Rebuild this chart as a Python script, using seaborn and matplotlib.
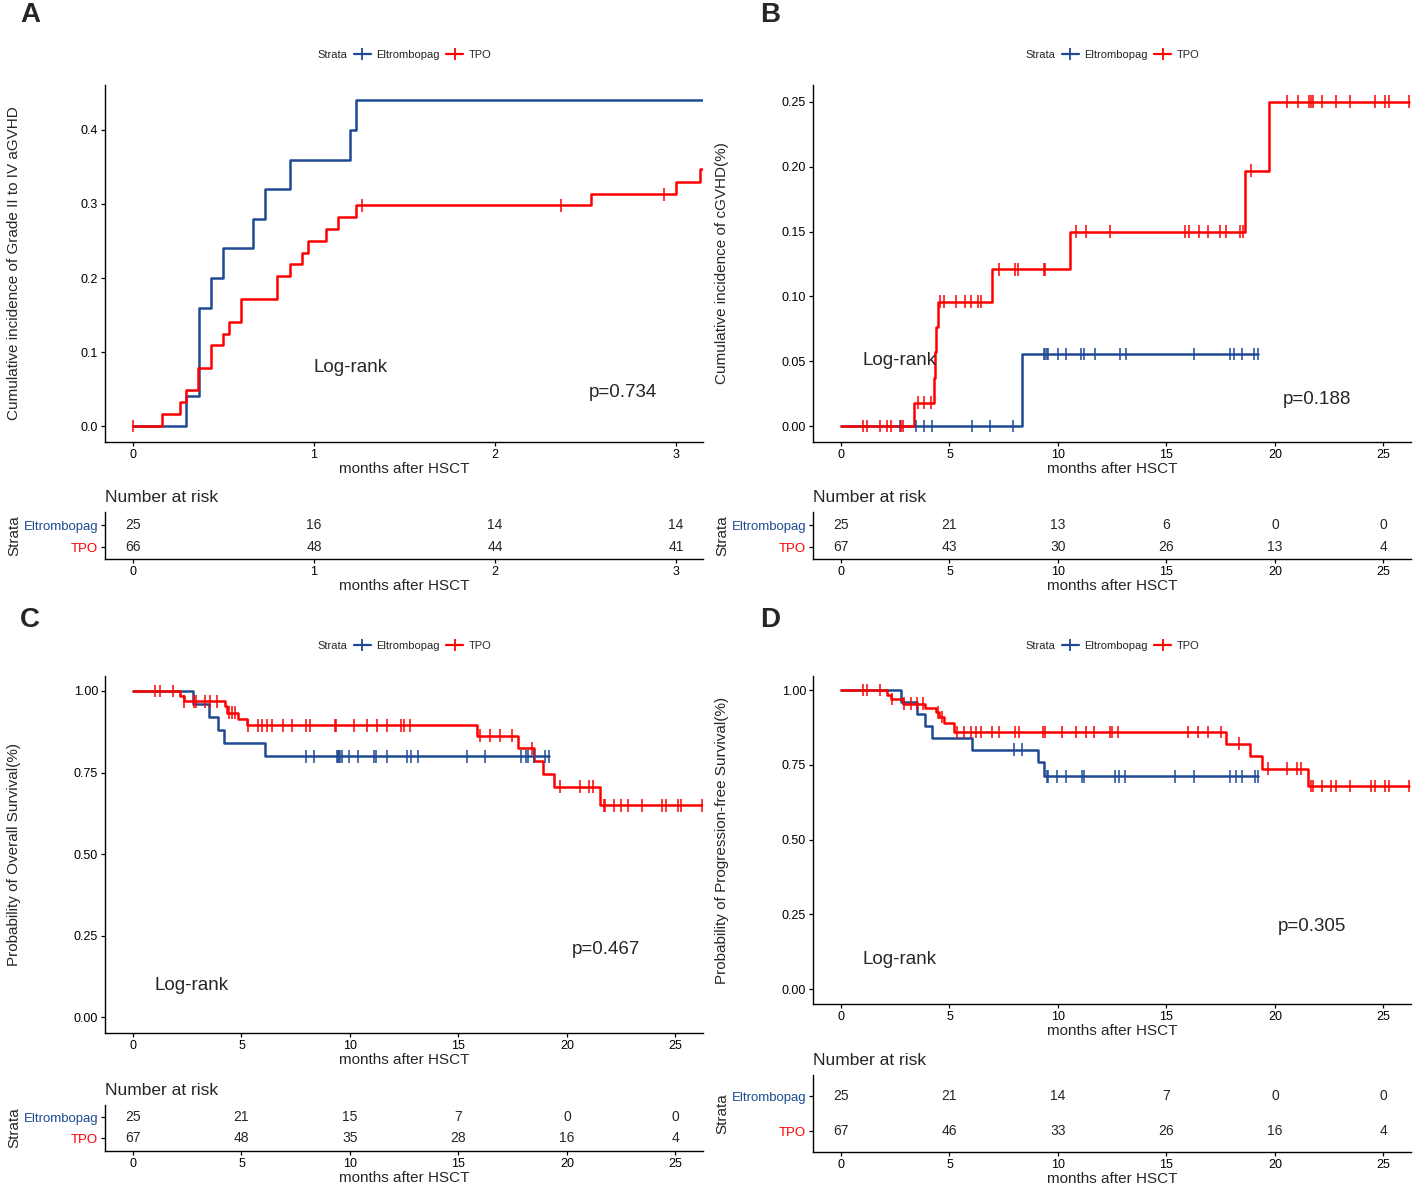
import numpy as np
import pandas as pd
import seaborn as sns
import matplotlib.pyplot as plt
from matplotlib.lines import Line2D

sns.set_style('ticks')
plt.rcParams['font.family'] = ['Liberation Sans', 'DejaVu Sans']

BLUE = '#1F4A93'
RED = '#FF0000'
groups = ['Eltrombopag', 'TPO']
pal = {'Eltrombopag': BLUE, 'TPO': RED}

# ---- Panel A: aGVHD (months 0-3) ----
A_elt_t = [0, 0.295, 0.366, 0.432, 0.499, 0.665, 0.731, 0.865, 1.196, 1.230, 3.15]
A_elt_v = [0, 0.04, 0.16, 0.20, 0.24, 0.28, 0.32, 0.36, 0.40, 0.44, 0.44]
A_elt_c = []
A_tpo_t = [0, 0.162, 0.262, 0.295, 0.361, 0.432, 0.499, 0.531, 0.596, 0.798, 0.865,
           0.931, 0.964, 1.065, 1.131, 1.230, 2.531, 2.999, 3.135, 3.15]
A_tpo_v = [0, 0.016, 0.032, 0.048, 0.079, 0.109, 0.125, 0.141, 0.172, 0.203, 0.219,
           0.234, 0.250, 0.266, 0.282, 0.298, 0.313, 0.330, 0.347, 0.347]
A_tpo_c = [0, 1.265, 2.365, 2.933]
A_risk_t = [0, 1, 2, 3]
A_risk_elt = [25, 16, 14, 14]
A_risk_tpo = [66, 48, 44, 41]

# ---- Panel B: cGVHD ----
B_elt_t = [0, 8.34, 19.23]
B_elt_v = [0, 0.0556, 0.0556]
B_elt_c = [2.71, 3.47, 3.84, 4.20, 6.05, 6.89, 7.92, 9.35, 9.42, 9.48, 9.54, 10.0, 10.38,
           11.08, 11.18, 11.69, 12.85, 13.12, 16.28, 17.92, 18.12, 18.46, 19.03, 19.23]
B_tpo_t = [0, 3.35, 4.27, 4.33, 4.38, 4.45, 6.98, 10.57, 18.62, 19.74, 26.2]
B_tpo_v = [0, 0.018, 0.037, 0.057, 0.076, 0.096, 0.121, 0.150, 0.197, 0.250, 0.250]
B_tpo_c = [1.0, 1.18, 1.82, 2.11, 2.29, 2.78, 2.86, 3.55, 3.84, 4.13, 4.56, 4.75, 5.30,
           5.71, 5.98, 6.30, 6.44, 7.30, 8.03, 8.15, 9.35, 9.38, 10.82, 11.31, 12.38,
           15.85, 16.03, 16.49, 16.92, 17.49, 17.74, 18.38, 18.51, 18.88, 20.57, 21.05,
           21.57, 21.66, 21.75, 22.15, 22.82, 23.48, 24.62, 25.06, 25.26, 26.2]
B_risk_t = [0, 5, 10, 15, 20, 25]
B_risk_elt = [25, 21, 13, 6, 0, 0]
B_risk_tpo = [67, 43, 30, 26, 13, 4]

# ---- Panel C: overall survival ----
C_elt_t = [0, 2.78, 3.51, 3.90, 4.21, 6.09, 19.19]
C_elt_v = [1, 0.96, 0.92, 0.88, 0.84, 0.80, 0.80]
C_elt_c = [7.96, 8.34, 9.38, 9.43, 9.48, 9.54, 9.61, 9.97, 10.38, 11.12, 11.20, 11.69,
           12.64, 12.81, 13.12, 15.38, 16.24, 17.89, 18.09, 18.20, 18.47, 19.0, 19.19]
C_tpo_t = [0, 2.18, 2.33, 4.23, 4.34, 4.83, 5.27, 15.84, 17.73, 18.50, 18.88, 19.39, 21.50, 26.23]
C_tpo_v = [1, 0.985, 0.969, 0.953, 0.934, 0.914, 0.895, 0.863, 0.824, 0.785, 0.746, 0.706,
           0.650, 0.650]
C_tpo_c = [1.02, 1.24, 1.86, 2.36, 2.83, 2.90, 3.33, 3.57, 3.86, 4.41, 4.58, 4.71, 5.30,
           5.76, 5.94, 6.19, 6.42, 6.91, 7.34, 7.98, 8.18, 9.31, 9.37, 10.17, 10.79, 11.26,
           11.69, 12.37, 12.50, 12.77, 16.01, 16.47, 16.92, 17.47, 18.38, 19.69, 20.58,
           21.0, 21.19, 21.70, 21.77, 22.16, 22.50, 22.80, 23.46, 24.37, 24.57, 25.1,
           25.26, 26.23]
C_risk_t = [0, 5, 10, 15, 20, 25]
C_risk_elt = [25, 21, 15, 7, 0, 0]
C_risk_tpo = [67, 48, 35, 28, 16, 4]

# ---- Panel D: progression-free survival ----
D_elt_t = [0, 2.75, 3.48, 3.86, 4.20, 6.05, 9.08, 9.37, 19.22]
D_elt_v = [1, 0.96, 0.92, 0.88, 0.84, 0.80, 0.76, 0.711, 0.711]
D_elt_c = [7.96, 8.34, 9.49, 9.56, 9.94, 10.38, 11.12, 11.21, 12.65, 12.81, 13.10,
           15.38, 16.26, 17.92, 18.19, 18.46, 19.06, 19.22]
D_tpo_t = [0, 2.13, 2.31, 2.84, 3.86, 4.38, 4.52, 4.77, 5.22, 17.74, 18.86, 19.39, 21.52, 26.2]
D_tpo_v = [1, 0.985, 0.970, 0.955, 0.940, 0.925, 0.91, 0.89, 0.86, 0.821, 0.78, 0.737,
           0.679, 0.679]
D_tpo_c = [1.0, 1.18, 1.82, 2.35, 2.89, 3.24, 3.48, 3.78, 4.47, 4.67, 5.34, 5.69, 5.98,
           6.23, 6.44, 6.94, 7.30, 8.01, 8.19, 9.32, 9.38, 10.19, 10.81, 11.28, 11.67,
           12.38, 12.50, 12.78, 16.01, 16.45, 16.93, 17.50, 18.36, 19.66, 20.55, 21.02,
           21.22, 21.68, 21.75, 22.15, 22.59, 22.82, 23.48, 24.41, 24.62, 25.06, 25.26, 26.2]
D_risk_t = [0, 5, 10, 15, 20, 25]
D_risk_elt = [25, 21, 14, 7, 0, 0]
D_risk_tpo = [67, 46, 33, 26, 16, 4]


def step_at(times, values, t):
    idx = np.searchsorted(times, t, side='right') - 1
    return np.asarray(values)[idx]


def curve_frames(elt_t, elt_v, elt_c, tpo_t, tpo_v, tpo_c):
    lines = pd.concat([
        pd.DataFrame({'time': elt_t, 'value': elt_v, 'strata': 'Eltrombopag'}),
        pd.DataFrame({'time': tpo_t, 'value': tpo_v, 'strata': 'TPO'}),
    ], ignore_index=True)
    cens = pd.concat([
        pd.DataFrame({'time': elt_c, 'value': step_at(elt_t, elt_v, elt_c) if len(elt_c) else [],
                      'strata': 'Eltrombopag'}),
        pd.DataFrame({'time': tpo_c, 'value': step_at(tpo_t, tpo_v, tpo_c), 'strata': 'TPO'}),
    ], ignore_index=True)
    return lines, cens


W, H = 1417, 1190
fig = plt.figure(figsize=(W / 100, H / 100), dpi=100)


def px_axes(left, right, top, bottom):
    return fig.add_axes([left / W, 1 - bottom / H, (right - left) / W, (bottom - top) / H])


def style_axes(ax):
    sns.despine(ax=ax)
    for s in ('left', 'bottom'):
        ax.spines[s].set_linewidth(1.0)
        ax.spines[s].set_color('black')
    ax.tick_params(axis='both', direction='out', length=3, width=0.9, colors='black',
                   labelsize=9, pad=2)


def draw_main(ax, lines, cens, xlim, ylim, xticks, yticks, yfmt, ylabel,
              lr_pos, p_text, p_pos, leg_y):
    sns.lineplot(data=lines, x='time', y='value', hue='strata', hue_order=groups,
                 palette=pal, drawstyle='steps-post', estimator=None, errorbar=None,
                 linewidth=1.8, legend=False, ax=ax)
    sns.scatterplot(data=cens, x='time', y='value', hue='strata', hue_order=groups,
                    palette=pal, marker='|', s=85, linewidth=1.1, legend=False,
                    ax=ax, zorder=4)
    ax.set_xlim(*xlim)
    ax.set_ylim(*ylim)
    ax.set_xticks(xticks)
    ax.set_yticks(yticks)
    ax.set_yticklabels([yfmt.format(v) for v in yticks])
    style_axes(ax)
    ax.set_xlabel('months after HSCT', fontsize=11, labelpad=1)
    ax.set_ylabel(ylabel, fontsize=11)
    ax.yaxis.set_label_coords(-0.14, 0.5)
    ax.text(lr_pos[0], lr_pos[1], 'Log-rank', transform=ax.transAxes,
            ha='center', va='center', fontsize=13.5)
    ax.text(p_pos[0], p_pos[1], p_text, transform=ax.transAxes,
            ha='center', va='center', fontsize=13.5)
    handles = [Line2D([], [], alpha=0),
               Line2D([], [], color=BLUE, marker='|', markersize=9, lw=1.6, mew=1.3),
               Line2D([], [], color=RED, marker='|', markersize=9, lw=1.6, mew=1.3)]
    ax.legend(handles, ['Strata'] + groups, loc='center', bbox_to_anchor=(0.482, leg_y),
              ncol=3, frameon=False, fontsize=8, handlelength=1.5, handletextpad=0.5,
              columnspacing=0.6, borderaxespad=0)


def draw_risk(ax, times, n_elt, n_tpo, xlim, ylim):
    rows = {'Eltrombopag': 2, 'TPO': 1}
    risk = pd.concat([
        pd.DataFrame({'time': times, 'n': n_elt, 'strata': 'Eltrombopag'}),
        pd.DataFrame({'time': times, 'n': n_tpo, 'strata': 'TPO'}),
    ], ignore_index=True)
    risk['row'] = risk['strata'].map(rows)
    for _, r in risk.iterrows():
        ax.text(r['time'], r['row'], str(r['n']), ha='center', va='center', fontsize=10)
    ax.set_xlim(*xlim)
    ax.set_ylim(*ylim)
    ax.set_xticks(times)
    ax.set_yticks([2, 1])
    ax.set_yticklabels(groups)
    style_axes(ax)
    ax.tick_params(axis='y', labelsize=9.5)
    for lbl, g in zip(ax.get_yticklabels(), groups):
        lbl.set_color(pal[g])
    ax.set_xlabel('months after HSCT', fontsize=11, labelpad=1)
    ax.set_ylabel('Strata', fontsize=11)
    ax.yaxis.set_label_coords(-0.14, 0.5)
    ax.set_title('Number at risk', loc='left', fontsize=12.5, pad=7)


month_lim = (-0.155, 3.149)
long_lim = (-1.29, 26.27)

# A
axA = px_axes(105, 703, 85, 442)
la, ca = curve_frames(A_elt_t, A_elt_v, A_elt_c, A_tpo_t, A_tpo_v, A_tpo_c)
draw_main(axA, la, ca, month_lim, (-0.0216, 0.4608), [0, 1, 2, 3],
          [0.0, 0.1, 0.2, 0.3, 0.4], '{:.1f}', 'Cumulative incidence of Grade II to IV aGVHD',
          (0.41, 0.21), 'p=0.734', (0.866, 0.14), 1.084)
draw_risk(px_axes(105, 703, 512, 559), A_risk_t, A_risk_elt, A_risk_tpo, month_lim, (0.45, 2.62))

# B
axB = px_axes(813, 1411, 85, 442)
lb, cb = curve_frames(B_elt_t, B_elt_v, B_elt_c, B_tpo_t, B_tpo_v, B_tpo_c)
draw_main(axB, lb, cb, long_lim, (-0.0123, 0.263), [0, 5, 10, 15, 20, 25],
          [0.0, 0.05, 0.10, 0.15, 0.20, 0.25], '{:.2f}', 'Cumulative incidence of cGVHD(%)',
          (0.144, 0.227), 'p=0.188', (0.843, 0.12), 1.084)
draw_risk(px_axes(813, 1411, 512, 559), B_risk_t, B_risk_elt, B_risk_tpo, long_lim, (0.45, 2.62))

# C
axC = px_axes(105, 703, 676, 1033)
lc, cc = curve_frames(C_elt_t, C_elt_v, C_elt_c, C_tpo_t, C_tpo_v, C_tpo_c)
draw_main(axC, lc, cc, long_lim, (-0.049, 1.046), [0, 5, 10, 15, 20, 25],
          [0.0, 0.25, 0.5, 0.75, 1.0], '{:.2f}', 'Probability of Overall Survival(%)',
          (0.144, 0.134), 'p=0.467', (0.838, 0.235), 1.084)
draw_risk(px_axes(105, 703, 1105, 1151), C_risk_t, C_risk_elt, C_risk_tpo, long_lim, (0.4, 2.57))

# D
axD = px_axes(813, 1411, 676, 1004)
ld, cd = curve_frames(D_elt_t, D_elt_v, D_elt_c, D_tpo_t, D_tpo_v, D_tpo_c)
draw_main(axD, ld, cd, long_lim, (-0.05, 1.047), [0, 5, 10, 15, 20, 25],
          [0.0, 0.25, 0.5, 0.75, 1.0], '{:.2f}', 'Probability of Progression-free Survival(%)',
          (0.144, 0.137), 'p=0.305', (0.834, 0.235), 1.091)
draw_risk(px_axes(813, 1411, 1075, 1152), D_risk_t, D_risk_elt, D_risk_tpo, long_lim, (0.4, 2.6))

for letter, (x, y) in zip('ABCD', [(30, 15), (770, 15), (30, 620), (770, 620)]):
    fig.text(x / W, 1 - y / H, letter, fontsize=20, fontweight='bold', ha='center', va='center')

fig.savefig('out.png', dpi=100, facecolor='white')
